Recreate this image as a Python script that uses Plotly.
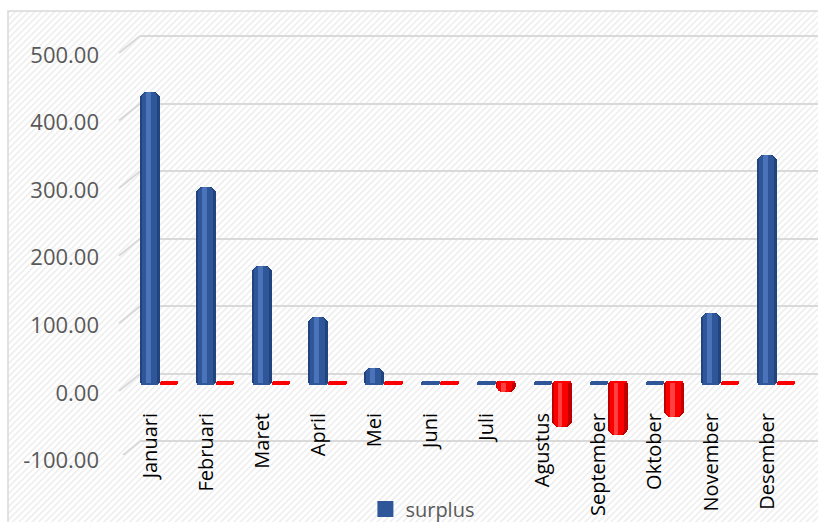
import base64
import plotly.graph_objects as go

# ---- data ----
months = ["Januari", "Februari", "Maret", "April", "Mei", "Juni", "Juli",
          "Agustus", "September", "Oktober", "November", "Desember"]
surplus = [430, 290, 173, 98, 22, 0, 0, 0, 0, 0, 103, 337]
defisit = [0, 0, 0, 0, 0, 0, -14, -65, -77, -50, 0, 0]
y_ticks = [-100, 0, 100, 200, 300, 400, 500]
y_labels = [f"{v:.2f}" for v in y_ticks]

W, H = 818, 522


def fx(p):
    return p / W


def fy(p):
    return 1 - p / H


idx = list(range(len(months)))
bw = 0.357
red_off = 0.339
YR = [-120, 540]

fig = go.Figure()

# invisible trace to create the back-wall subplot
fig.add_trace(go.Scatter(x=[0], y=[0], mode="markers", marker=dict(opacity=0),
                         showlegend=False, hoverinfo="skip", xaxis="x", yaxis="y"))


def add_cyl(xs, vals, dark, mid, light):
    n = len(xs)
    for d in (3.5, -3.5):
        fig.add_trace(go.Bar(x=xs, y=[d] * n, width=bw * 0.92, marker=dict(color=mid, cornerradius=3, line=dict(width=0)),
                             showlegend=False, hoverinfo="skip", xaxis="x2", yaxis="y2"))
    fig.add_trace(go.Bar(x=xs, y=vals, width=bw, marker=dict(color=dark, cornerradius=7, line=dict(width=0)),
                         showlegend=False, hoverinfo="skip", xaxis="x2", yaxis="y2"))
    fig.add_trace(go.Bar(x=[x - bw * 0.04 for x in xs], y=vals, width=bw * 0.74, marker=dict(color=mid, cornerradius=5, line=dict(width=0)),
                         showlegend=False, xaxis="x2", yaxis="y2"))
    fig.add_trace(go.Bar(x=[x - bw * 0.09 for x in xs], y=vals, width=bw * 0.24,
                         marker=dict(color=light, cornerradius=2, line=dict(width=0)),
                         showlegend=False, hoverinfo="skip", xaxis="x2", yaxis="y2"))


add_cyl(idx, surplus, "#22447E", "#2F5699", "#4A73B9")
add_cyl([i + red_off for i in idx], defisit, "#C00000", "#FA0000", "#FF4040")

# legend entry (square swatch)
fig.add_trace(go.Scatter(x=[None], y=[None], mode="markers", name="surplus",
                         marker=dict(symbol="square", size=16, color="#2F5699"),
                         xaxis="x2", yaxis="y2"))

# hatch background
svg = (f"<svg xmlns='http://www.w3.org/2000/svg' width='{W}' height='{H}'>"
       "<defs><pattern id='h' width='4.6' height='4.6' patternUnits='userSpaceOnUse' patternTransform='rotate(45)'>"
       "<rect width='4.6' height='4.6' fill='white'/>"
       "<line x1='0.8' y1='0' x2='0.8' y2='4.6' stroke='#ebebeb' stroke-width='1.4'/></pattern></defs>"
       f"<rect x='8' y='11' width='{W}' height='{H}' fill='url(#h)'/></svg>")
src = "data:image/svg+xml;base64," + base64.b64encode(svg.encode()).decode()

shapes = [dict(type="rect", xref="paper", yref="paper", x0=fx(8), x1=1.02, y0=-0.02, y1=fy(11),
               line=dict(color="#d9d9d9", width=1.5), layer="below")]
for v in y_ticks:
    shapes.append(dict(type="line", xref="paper", yref="y", x0=fx(119), x1=fx(140), y0=v - 25.2, y1=v,
                       line=dict(color="#d9d9d9", width=2), layer="below"))

fig.update_layout(
    width=W, height=H,
    margin=dict(l=0, r=0, t=0, b=0, autoexpand=False),
    paper_bgcolor="white",
    plot_bgcolor="rgba(0,0,0,0)",
    barmode="overlay",
    bargap=0,
    images=[dict(source=src, xref="paper", yref="paper", x=0, y=1, sizex=1, sizey=1,
                 sizing="stretch", xanchor="left", yanchor="top", layer="below")],
    shapes=shapes,
    xaxis=dict(domain=[fx(140), 1], range=[0, 1], showgrid=False, showticklabels=False,
               zeroline=False, showline=False, anchor="y", automargin=False),
    yaxis=dict(domain=[fy(455), fy(9)], range=YR, anchor="x", tickvals=y_ticks, showticklabels=False,
               showgrid=True, gridcolor="#d9d9d9", gridwidth=2, zeroline=False, showline=False,
               automargin=False),
    xaxis2=dict(domain=[fx(120), 1], range=[-0.5348, 11.907], anchor="free", position=fy(408),
                tickvals=idx, ticktext=months, tickangle=-90, showgrid=False, zeroline=False, showline=False,
                ticks="", automargin=False, tickfont=dict(family="Open Sans", size=20, color="#000000")),
    yaxis2=dict(domain=[fy(464), fy(18)], range=YR, anchor="x2", tickvals=y_ticks, ticktext=y_labels,
                showgrid=False, zeroline=False, showline=False, ticks="", automargin=False,
                ticklabelshift=10, ticklabelstandoff=20,
                tickfont=dict(family="Open Sans", size=22, color="#595959")),
    showlegend=True,
    legend=dict(orientation="h", x=0.517, xanchor="center", y=fy(509), yanchor="middle",
                itemwidth=30, bgcolor="rgba(0,0,0,0)", font=dict(family="Open Sans", size=20, color="#595959")),
)

fig.write_html("out.html")
